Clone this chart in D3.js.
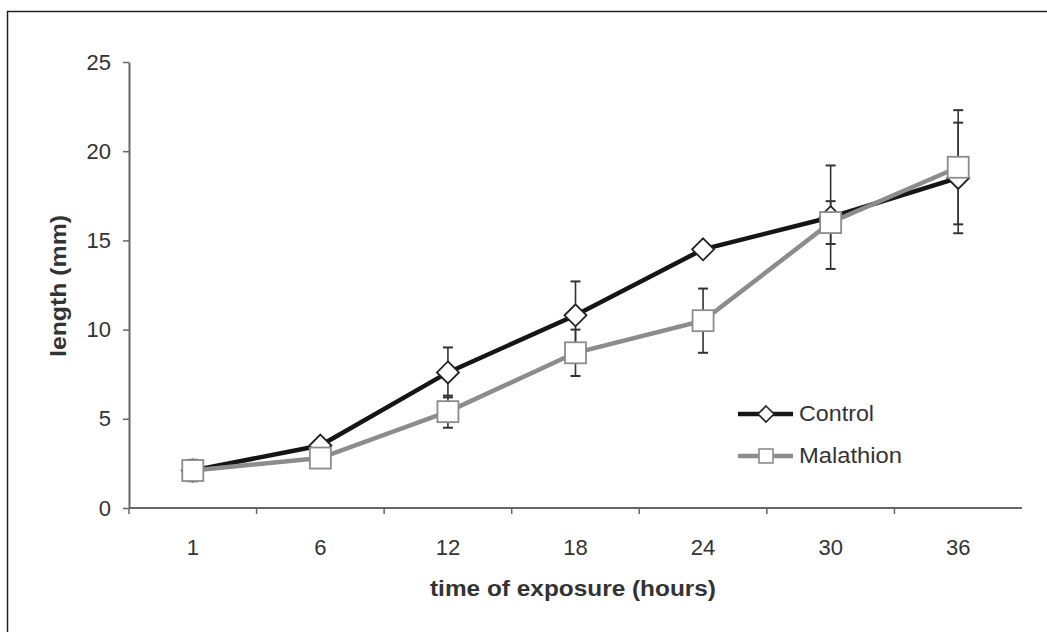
<!DOCTYPE html>
<html>
<head>
<meta charset="utf-8">
<script src="https://cdn.jsdelivr.net/npm/d3@7"></script>
<style>
  html, body { margin: 0; padding: 0; background: #fff; }
  svg { display: block; font-family: "Liberation Sans", Arial, sans-serif; }
</style>
</head>
<body>
<svg id="chart" width="1047" height="632"></svg>
<script>
const categories = ["1", "6", "12", "18", "24", "30", "36"];
const controlMean = [2.1, 3.5, 7.6, 10.8, 14.5, 16.3, 18.5];
const controlErr  = [0.1, 0.2, 1.4, 1.9, 0.2, 2.9, 3.1];
const malathionMean = [2.1, 2.8, 5.4, 8.7, 10.5, 16.0, 19.1];
const malathionErr  = [0.6, 0.2, 0.9, 1.3, 1.8, 1.2, 3.2];
const yTicks = [0, 5, 10, 15, 20, 25];

const svg = d3.select("#chart");

// outer frame (left and top visible)
svg.append("path")
  .attr("d", "M7.5,632 L7.5,11.5 L1047,11.5")
  .attr("fill", "none").attr("stroke", "#222").attr("stroke-width", 1.5);

const x = d3.scaleBand().domain(categories).range([129, 1022]);
const y = d3.scaleLinear().domain([0, 25]).range([508, 62]);
const cx = d => x(d) + x.bandwidth() / 2;

// Y axis
const yAxis = svg.append("g").attr("transform", "translate(129,0)")
  .call(d3.axisLeft(y).tickValues(yTicks).tickSize(6).tickPadding(10).tickSizeOuter(0));
yAxis.select(".domain").attr("stroke", "#666").attr("stroke-width", 2);
yAxis.selectAll(".tick line").attr("stroke", "#666").attr("stroke-width", 1.5);
yAxis.selectAll(".tick text").attr("font-size", 22).attr("fill", "#333")
  .attr("font-family", "Liberation Sans, Arial, sans-serif").attr("dx", -2);

// X axis: ticks at band boundaries
const xAxisG = svg.append("g").attr("transform", "translate(0,508)");
xAxisG.append("line").attr("x1", 129).attr("x2", 1022).attr("y1", 0).attr("y2", 0)
  .attr("stroke", "#666").attr("stroke-width", 2);
const boundaries = categories.map(c => x(c));
xAxisG.selectAll("line.tk").data(boundaries).join("line").attr("class", "tk")
  .attr("x1", d => d).attr("x2", d => d).attr("y1", 0).attr("y2", 6)
  .attr("stroke", "#666").attr("stroke-width", 1.5);
xAxisG.selectAll("text").data(categories).join("text")
  .attr("x", d => cx(d)).attr("y", 47).attr("text-anchor", "middle")
  .attr("font-size", 22).attr("fill", "#333").text(d => d);

// Axis titles
svg.append("text").attr("x", 573).attr("y", 596).attr("text-anchor", "middle")
  .attr("font-size", 22).attr("font-weight", "bold").attr("fill", "#333")
  .attr("textLength", 286).attr("lengthAdjust", "spacingAndGlyphs")
  .text("time of exposure (hours)");
svg.append("text").attr("transform", "translate(66,286) rotate(-90)").attr("text-anchor", "middle")
  .attr("font-size", 22).attr("font-weight", "bold").attr("fill", "#333")
  .attr("textLength", 142).attr("lengthAdjust", "spacingAndGlyphs")
  .text("length (mm)");

const ctrl = categories.map((c, i) => ({c, v: controlMean[i], e: controlErr[i]}));
const mal = categories.map((c, i) => ({c, v: malathionMean[i], e: malathionErr[i]}));

function errorBars(data) {
  const g = svg.append("g").attr("stroke", "#333").attr("stroke-width", 1.6);
  data.forEach(d => {
    const px = cx(d.c);
    g.append("line").attr("x1", px).attr("x2", px).attr("y1", y(d.v - d.e)).attr("y2", y(d.v + d.e));
    [d.v - d.e, d.v + d.e].forEach(val => {
      g.append("line").attr("x1", px - 5).attr("x2", px + 5).attr("y1", y(val)).attr("y2", y(val)).attr("stroke-width", 2);
    });
  });
}
errorBars(ctrl);
errorBars(mal);

const line = d3.line().x(d => cx(d.c)).y(d => y(d.v));

svg.append("path").datum(ctrl).attr("d", line).attr("fill", "none")
  .attr("stroke", "#151515").attr("stroke-width", 4.5);
svg.selectAll("path.dia").data(ctrl).join("path").attr("class", "dia")
  .attr("d", d => { const px = cx(d.c), py = y(d.v), r = 11; return `M${px},${py-r}L${px+r},${py}L${px},${py+r}L${px-r},${py}Z`; })
  .attr("fill", "#fff").attr("stroke", "#222").attr("stroke-width", 1.8);

svg.append("path").datum(mal).attr("d", line).attr("fill", "none")
  .attr("stroke", "#8c8c8c").attr("stroke-width", 4.5);
svg.selectAll("rect.sq").data(mal).join("rect").attr("class", "sq")
  .attr("x", d => cx(d.c) - 10.5).attr("y", d => y(d.v) - 10.5)
  .attr("width", 21).attr("height", 21)
  .attr("fill", "#fff").attr("stroke", "#8c8c8c").attr("stroke-width", 1.8);

// Legend
const leg = svg.append("g");
leg.append("line").attr("x1", 738).attr("x2", 793).attr("y1", 414).attr("y2", 414)
  .attr("stroke", "#151515").attr("stroke-width", 4.5);
leg.append("path").attr("d", "M766,406L774,414L766,422L758,414Z")
  .attr("fill", "#fff").attr("stroke", "#222").attr("stroke-width", 1.6);
leg.append("text").attr("x", 799).attr("y", 421).attr("font-size", 22).attr("fill", "#333")
  .attr("textLength", 75).attr("lengthAdjust", "spacingAndGlyphs").text("Control");
leg.append("line").attr("x1", 738).attr("x2", 793).attr("y1", 456).attr("y2", 456)
  .attr("stroke", "#8c8c8c").attr("stroke-width", 4.5);
leg.append("rect").attr("x", 759).attr("y", 449).attr("width", 14).attr("height", 14)
  .attr("fill", "#fff").attr("stroke", "#8c8c8c").attr("stroke-width", 1.6);
leg.append("text").attr("x", 799).attr("y", 463).attr("font-size", 22).attr("fill", "#333")
  .attr("textLength", 103).attr("lengthAdjust", "spacingAndGlyphs").text("Malathion");
</script>
</body>
</html>
